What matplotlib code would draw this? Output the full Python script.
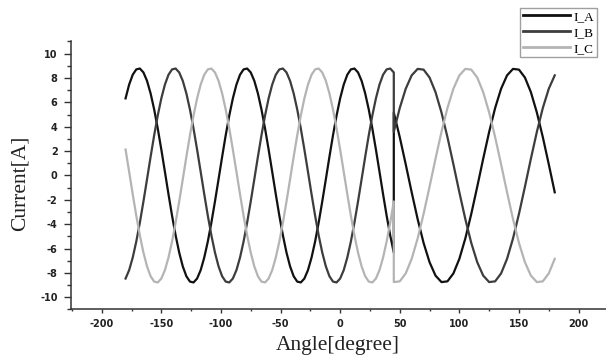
import numpy as np
import matplotlib.pyplot as plt
from matplotlib.ticker import MultipleLocator

plt.rcParams['axes.unicode_minus'] = False

# Angle samples [degree]: the waveform changes frequency at about 45 degree
angle_1 = np.arange(-180, 46, 3)
angle_2 = np.arange(45, 181, 5)

# Currents [A], before the change (step 3 deg)
ia_1 = [6.33, 7.46, 8.27, 8.71, 8.78, 8.46, 7.77, 6.74, 5.42, 3.86, 2.13, 0.31, -1.53, -3.30, -4.92,
        -6.33, -7.46, -8.27, -8.71, -8.78, -8.46, -7.77, -6.74, -5.42, -3.86, -2.13, -0.31, 1.53, 3.30, 4.92,
        6.33, 7.46, 8.27, 8.71, 8.78, 8.46, 7.77, 6.74, 5.42, 3.86, 2.13, 0.31, -1.53, -3.30, -4.92,
        -6.33, -7.46, -8.27, -8.71, -8.78, -8.46, -7.77, -6.74, -5.42, -3.86, -2.13, -0.31, 1.53, 3.30, 4.92,
        6.33, 7.46, 8.27, 8.71, 8.78, 8.46, 7.77, 6.74, 5.42, 3.86, 2.13, 0.31, -1.53, -3.30, -4.92, -6.33]
ib_1 = [-8.46, -7.77, -6.74, -5.42, -3.86, -2.13, -0.31, 1.53, 3.30, 4.92, 6.33, 7.46, 8.27, 8.71, 8.78,
        8.46, 7.77, 6.74, 5.42, 3.86, 2.13, 0.31, -1.53, -3.30, -4.92, -6.33, -7.46, -8.27, -8.71, -8.78,
        -8.46, -7.77, -6.74, -5.42, -3.86, -2.13, -0.31, 1.53, 3.30, 4.92, 6.33, 7.46, 8.27, 8.71, 8.78,
        8.46, 7.77, 6.74, 5.42, 3.86, 2.13, 0.31, -1.53, -3.30, -4.92, -6.33, -7.46, -8.27, -8.71, -8.78,
        -8.46, -7.77, -6.74, -5.42, -3.86, -2.13, -0.31, 1.53, 3.30, 4.92, 6.33, 7.46, 8.27, 8.71, 8.78, 8.46]
ic_1 = [2.13, 0.31, -1.53, -3.30, -4.92, -6.33, -7.46, -8.27, -8.71, -8.78, -8.46, -7.77, -6.74, -5.42, -3.86,
        -2.13, -0.31, 1.53, 3.30, 4.92, 6.33, 7.46, 8.27, 8.71, 8.78, 8.46, 7.77, 6.74, 5.42, 3.86,
        2.13, 0.31, -1.53, -3.30, -4.92, -6.33, -7.46, -8.27, -8.71, -8.78, -8.46, -7.77, -6.74, -5.42, -3.86,
        -2.13, -0.31, 1.53, 3.30, 4.92, 6.33, 7.46, 8.27, 8.71, 8.78, 8.46, 7.77, 6.74, 5.42, 3.86,
        2.13, 0.31, -1.53, -3.30, -4.92, -6.33, -7.46, -8.27, -8.71, -8.78, -8.46, -7.77, -6.74, -5.42, -3.86, -2.13]

# after the change (step 5 deg)
ia_2 = [5.17, 3.15, 0.92, -1.38, -3.58, -5.54, -7.12, -8.22, -8.75, -8.69, -8.04, -6.84, -5.17, -3.15,
        -0.92, 1.38, 3.58, 5.54, 7.12, 8.22, 8.75, 8.69, 8.04, 6.84, 5.17, 3.15, 0.92, -1.38]
ib_2 = [3.58, 5.54, 7.12, 8.22, 8.75, 8.69, 8.04, 6.84, 5.17, 3.15, 0.92, -1.38, -3.58, -5.54,
        -7.12, -8.22, -8.75, -8.69, -8.04, -6.84, -5.17, -3.15, -0.92, 1.38, 3.58, 5.54, 7.12, 8.22]
ic_2 = [-8.75, -8.69, -8.04, -6.84, -5.17, -3.15, -0.92, 1.38, 3.58, 5.54, 7.12, 8.22, 8.75, 8.69,
        8.04, 6.84, 5.17, 3.15, 0.92, -1.38, -3.58, -5.54, -7.12, -8.22, -8.75, -8.69, -8.04, -6.84]

angle = np.concatenate([angle_1, angle_2])
series = {
    'I_A': (ia_1 + ia_2, '#111111'),
    'I_B': (ib_1 + ib_2, '#3d3d3d'),
    'I_C': (ic_1 + ic_2, '#b4b4b4'),
}

fig = plt.figure(figsize=(6.06, 3.58), dpi=100)
ax = fig.add_axes([0.1167, 0.1355, 0.8833, 0.7486])

for name, (vals, col) in series.items():
    ax.plot(angle, vals, color=col, lw=1.6, label=name)

ax.set_xlim(-226, 223)
ax.set_ylim(-11, 11)
ax.xaxis.set_major_locator(MultipleLocator(50))
ax.xaxis.set_minor_locator(MultipleLocator(25))
ax.yaxis.set_major_locator(MultipleLocator(2))
ax.yaxis.set_minor_locator(MultipleLocator(1))

for s in ['top', 'right']:
    ax.spines[s].set_visible(False)
for s in ['left', 'bottom']:
    ax.spines[s].set_color('#333333')
    ax.spines[s].set_linewidth(1.1)

tick_font = {'family': 'DejaVu Sans', 'weight': 'bold', 'size': 7}
ax.tick_params(axis='x', which='major', direction='out', length=3, width=1, color='#333333', pad=4)
ax.tick_params(axis='x', which='minor', direction='out', length=1.5, width=1, color='#333333')
ax.tick_params(axis='y', which='major', direction='out', length=5, width=1, color='#333333', pad=4.5)
ax.tick_params(axis='y', which='minor', direction='out', length=2.8, width=1, color='#333333')
for lab in ax.get_xticklabels() + ax.get_yticklabels():
    lab.set_fontproperties(tick_font)
    lab.set_color('#222222')

ax.set_xlabel('Angle[degree]', family='Liberation Serif', fontsize=15.5, color='#222222', va='center')
ax.set_ylabel('Current[A]', family='Liberation Serif', fontsize=15.5, color='#222222', va='center')
ax.xaxis.set_label_coords(0.4994, -0.136)
ax.yaxis.set_label_coords(-0.094, 0.472)

leg = ax.legend(loc='upper right', bbox_to_anchor=(597 / 606, 1 - 8 / 358), bbox_transform=fig.transFigure,
                prop={'family': 'Liberation Serif', 'size': 9.5}, frameon=True, fancybox=False,
                edgecolor='#888888', handlelength=3.55, handletextpad=0.3, borderpad=0.2,
                labelspacing=0.28, borderaxespad=0)
leg.get_frame().set_linewidth(1.0)
for line in leg.get_lines():
    line.set_linewidth(2.0)

fig.savefig('out.png', dpi=100)
